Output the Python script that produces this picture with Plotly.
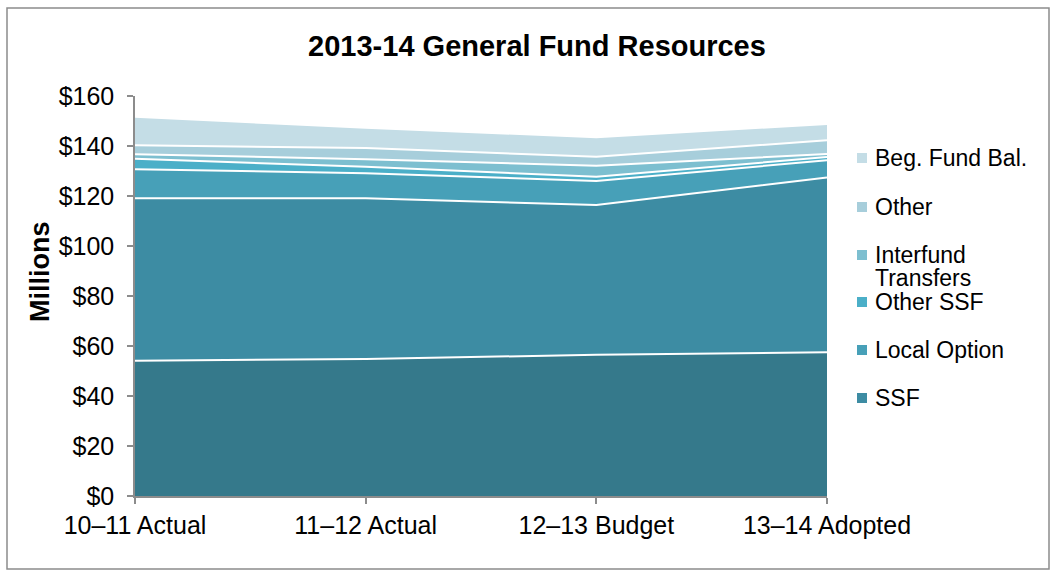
import plotly.graph_objects as go

# Fiscal years shown on the category axis
categories = ["10–11 Actual", "11–12 Actual", "12–13 Budget", "13–14 Adopted"]

# Resources by source, in millions of dollars (stacked bottom to top)
property_taxes = [54.1, 54.8, 56.5, 57.5]
ssf = [65.0, 64.3, 59.9, 69.9]
local_option = [11.6, 10.0, 9.6, 6.9]
other_ssf = [4.2, 2.6, 1.7, 1.3]
interfund_transfers = [1.8, 3.0, 4.4, 1.2]
other = [3.6, 4.5, 3.6, 5.5]
beg_fund_bal = [11.4, 8.1, 7.8, 6.5]

y_ticks = [0, 20, 40, 60, 80, 100, 120, 140, 160]
y_tick_labels = ["$" + str(v) for v in y_ticks]

series = [
    ("Property Taxes", property_taxes, "#35798b", False),
    ("SSF", ssf, "#3d8ca3", True),
    ("Local Option", local_option, "#47a0b8", True),
    ("Other SSF", other_ssf, "#4bafc8", True),
    ("Interfund Transfers", interfund_transfers, "#7dbfd0", True),
    ("Other", other, "#a7cedb", True),
    ("Beg. Fund Bal.", beg_fund_bal, "#c4dde6", True),
]

FONT = "Liberation Sans, Arial, sans-serif"
W, H = 1056, 577
PL, PR, PT, PB = 135, 827, 96, 496  # plot area edges in pixels

fig = go.Figure()
for name, vals, color, _ in series:
    fig.add_trace(go.Scatter(
        x=categories, y=vals, name=name, mode="lines",
        stackgroup="one", fillcolor=color,
        line=dict(color="white", width=2),
        showlegend=False,
    ))


def px_to_paper(x=None, y=None):
    out = []
    if x is not None:
        out.append((x - PL) / (PR - PL))
    if y is not None:
        out.append((PB - y) / (PB - PT))
    return out[0] if len(out) == 1 else out


shapes = []
annotations = []

# Chart-area border
x0, y0 = px_to_paper(7, 569)
x1, y1 = px_to_paper(1049, 8)
shapes.append(dict(type="rect", xref="paper", yref="paper", x0=x0, y0=y0, x1=x1, y1=y1,
                   line=dict(color="#8c8c8c", width=1.5), fillcolor="rgba(0,0,0,0)", layer="below"))

# Legend (top entry first, as stacked)
legend_items = [s for s in reversed(series) if s[3]]
legend_y = [158, 207, 255, 302, 350, 398]
for (name, _, color, _), ly in zip(legend_items, legend_y):
    sx0, sy0 = px_to_paper(857, ly + 5)
    sx1, sy1 = px_to_paper(867, ly - 5)
    shapes.append(dict(type="rect", xref="paper", yref="paper", x0=sx0, y0=sy0, x1=sx1, y1=sy1,
                       line=dict(width=0), fillcolor=color))
    lines = ["Interfund", "Transfers"] if name == "Interfund Transfers" else [name]
    for i, txt in enumerate(lines):
        tx, ty = px_to_paper(873, ly + 23 * i)
        annotations.append(dict(xref="paper", yref="paper", x=tx, y=ty, text=txt,
                                showarrow=False, xanchor="left", yanchor="middle",
                                font=dict(family=FONT, size=23, color="black")))

# Y-axis title
tx, ty = px_to_paper(40, 272)
annotations.append(dict(xref="paper", yref="paper", x=tx, y=ty, text="<b>Millions</b>",
                        textangle=-90, showarrow=False, xanchor="center", yanchor="middle",
                        font=dict(family=FONT, size=27, color="black")))

fig.update_layout(
    width=W, height=H,
    margin=dict(l=PL, r=W - PR, t=PT, b=H - PB),
    paper_bgcolor="white", plot_bgcolor="white",
    font=dict(family=FONT, size=25, color="black"),
    title=dict(text="<b>2013-14 General Fund Resources</b>", x=537 / W, xref="container",
               xanchor="center", y=1 - 46 / H, yref="container", yanchor="middle",
               font=dict(family=FONT, size=29, color="black")),
    xaxis=dict(type="category", range=[0, 3], showgrid=False, zeroline=False,
               showline=True, linecolor="#8c8c8c", linewidth=1.5,
               ticks="outside", ticklen=6, tickcolor="#8c8c8c", tickwidth=1.5,
               tickfont=dict(family=FONT, size=25, color="black")),
    yaxis=dict(range=[0, 160], tickmode="array", tickvals=y_ticks, ticktext=y_tick_labels,
               showgrid=True, gridcolor="#8c8c8c", gridwidth=1, zeroline=False,
               showline=True, linecolor="#8c8c8c", linewidth=1.5,
               ticks="outside", ticklen=6, tickcolor="#8c8c8c", tickwidth=1.5,
               ticklabelstandoff=8,
               tickfont=dict(family=FONT, size=25, color="black")),
    shapes=shapes, annotations=annotations,
    showlegend=False,
)

fig.write_html("out.html")
